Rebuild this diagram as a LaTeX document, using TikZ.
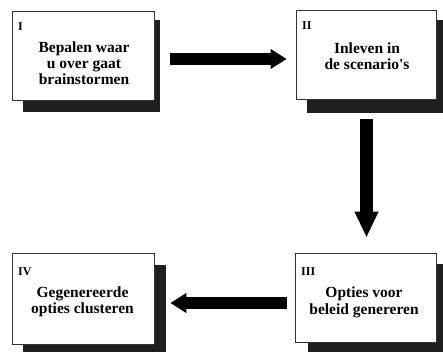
\documentclass[tikz,border=0pt]{standalone}
\usepackage{fontspec}
\setmainfont{Liberation Serif}
\usetikzlibrary{arrows.meta,calc,backgrounds}
\begin{document}
\begin{tikzpicture}[x=1pt,y=-1pt,
  stepbox/.style={draw=black!80,line width=0.7pt,fill=white,inner sep=0pt,
    minimum width=142pt,minimum height=89pt},
  shade/.style={fill=black!88},
  caption/.style={font=\bfseries\fontsize{15.5}{16.3}\selectfont,align=center,
    anchor=base,inner sep=0pt},
  numeral/.style={font=\bfseries\fontsize{12}{12}\selectfont,anchor=base west,
    inner sep=0pt},
  flow/.style={line width=12pt,-{Triangle[length=16pt,width=19pt]}},
]
\useasboundingbox (0,0) rectangle (443,351);
\clip (0,0) rectangle (443,351);

% the four stage boxes
\node[stepbox] (b1) at (83,55.5) {};
\node[stepbox,minimum width=140pt] (b2) at (366,54.5) {};
\node[stepbox,minimum width=141pt] (b3) at (365.5,297.5) {};
\node[stepbox,minimum height=91pt] (b4) at (83,298.5) {};

% page background and drop shadows behind the boxes
\begin{scope}[on background layer]
  \fill[white] (0,0) rectangle (443,351);
  \fill[shade] ($(b1.north west)+(11,9)$) rectangle ($(b1.south east)+(6,12)$);
  \fill[shade] ($(b2.north west)+(11,10)$) rectangle ($(b2.south east)+(10,14)$);
  \fill[shade] ($(b3.north west)+(13,11)$) rectangle ($(b3.south east)+(10,12)$);
  \fill[shade] ($(b4.north west)+(11,12)$) rectangle ($(b4.south east)+(12,12)$);
\end{scope}

% stage numbers
\node[numeral] (n1) at (18,30) {I};
\node[numeral] (n2) at (302,29) {II};
\node[numeral] (n3) at (301,275) {III};
\node[numeral] (n4) at (18,275) {IV};

% stage texts (placed by the baseline of their last line)
\node[caption] (t1) at (84,84.6) {Bepalen waar\\u over gaat\\brainstormen};
\node[caption] (t2) at (367,69.6) {Inleven in\\de scenario\textquotesingle s};
\node[caption] (t3) at (364,314) {Opties voor\\beleid genereren};
\node[caption] (t4) at (82.5,313.6) {Gegenereerde\\opties clusteren};

% flow between the stages
\draw[flow,shorten <=16pt,shorten >=9pt]
  ([yshift=-3.5pt]b1.east) -- ([yshift=-3.5pt]b1.east -| b2.west);
\draw[line width=13pt,-{Triangle[length=26pt,width=22pt]},shorten <=20pt,shorten >=15pt]
  ([xshift=0.5pt]b2.south) -- ([xshift=0.5pt]b2.south |- b3.north);
\draw[flow,shorten <=8pt,shorten >=16pt]
  ([yshift=-5.5pt]b3.west) -- ([yshift=-5.5pt]b3.west -| b4.east);
\end{tikzpicture}
\end{document}
